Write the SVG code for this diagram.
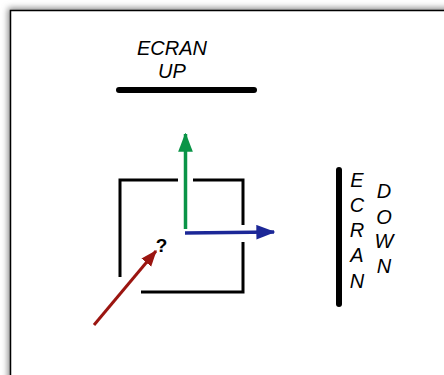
<svg xmlns="http://www.w3.org/2000/svg" width="444" height="375" viewBox="0 0 444 375">
  <defs>
    <filter id="sh" x="-10%" y="-10%" width="120%" height="120%">
      <feGaussianBlur stdDeviation="3"/>
    </filter>
    <marker id="ag" viewBox="0 0 13 10" refX="12" refY="5" markerWidth="5.46" markerHeight="4.2" orient="auto" markerUnits="strokeWidth">
      <path d="M0,0 L13,5 L0,10 z" fill="#0a9447"/>
    </marker>
    <marker id="ab" viewBox="0 0 13 10" refX="12" refY="5" markerWidth="5.46" markerHeight="4.2" orient="auto" markerUnits="strokeWidth">
      <path d="M0,0 L13,5 L0,10 z" fill="#1c2797"/>
    </marker>
    <marker id="ar" viewBox="0 0 13 10" refX="12" refY="5" markerWidth="5.46" markerHeight="4.6" orient="auto" markerUnits="strokeWidth">
      <path d="M0,0 L13,5 L0,10 z" fill="#9b1510"/>
    </marker>
  </defs>
  <style>
    .lbl { font-family: "Liberation Sans", Arial, sans-serif; font-style: italic; font-size: 20px; fill: #000; }
    .wall { stroke: #000; stroke-width: 3; fill: none; }
    .bar { stroke: #000; stroke-width: 6; stroke-linecap: round; fill: none; }
  </style>
  <rect width="444" height="375" fill="#fff"/>
  <rect x="8" y="8" width="460" height="400" fill="#888" filter="url(#sh)"/>
  <rect x="10.5" y="10.5" width="460" height="400" fill="#fff" stroke="#000" stroke-width="1.5"/>

  <g id="ecran-up">
    <line class="bar" x1="119" y1="90" x2="254" y2="90"/>
    <text class="lbl" x="172" y="55" text-anchor="middle">ECRAN</text>
    <text class="lbl" x="172" y="78" text-anchor="middle">UP</text>
  </g>

  <g id="ecran-down">
    <line class="bar" x1="339" y1="170" x2="339" y2="304"/>
    <g class="lbl" text-anchor="middle">
      <text x="357" y="187">E</text>
      <text x="357" y="212">C</text>
      <text x="357" y="237">R</text>
      <text x="357" y="262">A</text>
      <text x="357" y="288">N</text>
      <text x="384" y="198">D</text>
      <text x="384" y="224">O</text>
      <text x="384" y="248">W</text>
      <text x="384" y="273">N</text>
    </g>
  </g>

  <g id="room">
    <polyline class="wall" points="120,277 120,180 178,180"/>
    <polyline class="wall" points="193,180 243,180 243,225"/>
    <polyline class="wall" points="243,242 243,292 141,292"/>
    <text x="161.5" y="252" text-anchor="middle" style="font-family:'Liberation Sans',Arial,sans-serif;font-weight:bold;font-size:19px">?</text>
  </g>

  <g id="connectors">
    <line x1="185.5" y1="229" x2="185.5" y2="134" stroke="#0a9447" stroke-width="3.5" marker-end="url(#ag)"/>
    <line x1="185" y1="233" x2="274" y2="232" stroke="#1c2797" stroke-width="3.5" marker-end="url(#ab)"/>
    <line x1="94" y1="325" x2="156" y2="251" stroke="#9b1510" stroke-width="3" marker-end="url(#ar)"/>
  </g>
</svg>
